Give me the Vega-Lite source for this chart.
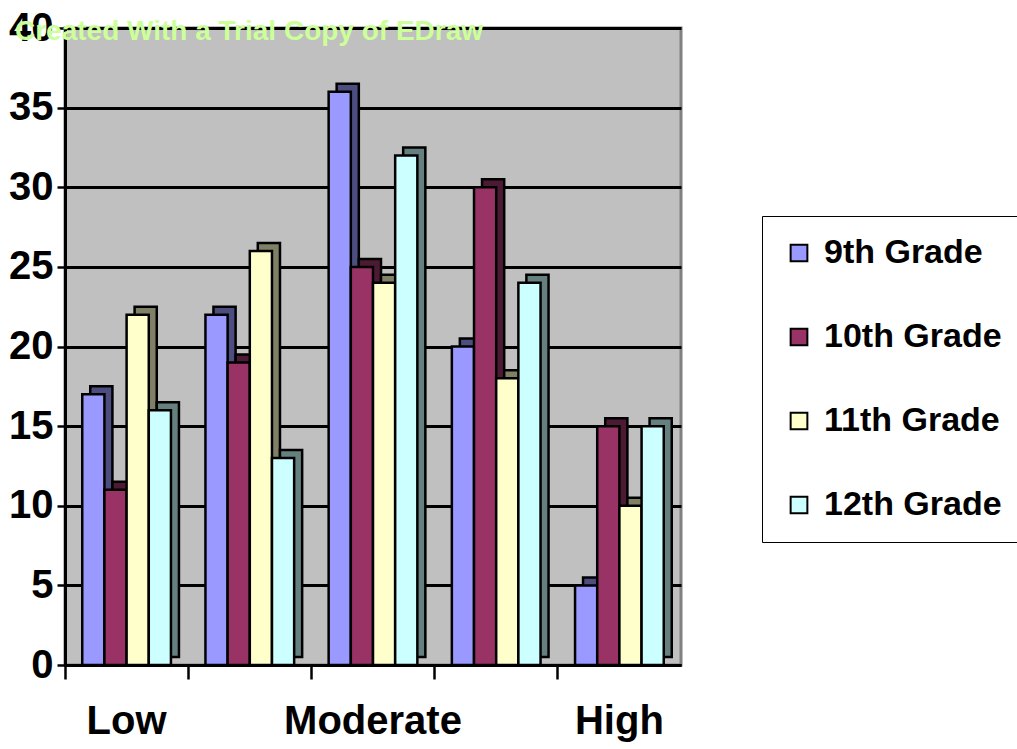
{
  "$schema": "https://vega.github.io/schema/vega-lite/v6.json",
  "autosize": "none",
  "width": 616,
  "height": 637,
  "padding": {"left": 65, "top": 28, "right": 336, "bottom": 84},
  "background": "white",
  "title": {
    "text": "Created With a Trial Copy of EDraw",
    "font": "Liberation Sans",
    "fontSize": 28,
    "fontWeight": "bold",
    "color": "#CCFF99",
    "anchor": "start",
    "frame": "group",
    "orient": "top",
    "offset": -38,
    "dx": -50
  },
  "data": {
    "values": [
      {"level": "Low", "grade": "9th Grade", "value": 17},
      {"level": "Low", "grade": "10th Grade", "value": 11},
      {"level": "Low", "grade": "11th Grade", "value": 22},
      {"level": "Low", "grade": "12th Grade", "value": 16},
      {"level": "Low-Moderate", "grade": "9th Grade", "value": 22},
      {"level": "Low-Moderate", "grade": "10th Grade", "value": 19},
      {"level": "Low-Moderate", "grade": "11th Grade", "value": 26},
      {"level": "Low-Moderate", "grade": "12th Grade", "value": 13},
      {"level": "Moderate", "grade": "9th Grade", "value": 36},
      {"level": "Moderate", "grade": "10th Grade", "value": 25},
      {"level": "Moderate", "grade": "11th Grade", "value": 24},
      {"level": "Moderate", "grade": "12th Grade", "value": 32},
      {"level": "Moderate-High", "grade": "9th Grade", "value": 20},
      {"level": "Moderate-High", "grade": "10th Grade", "value": 30},
      {"level": "Moderate-High", "grade": "11th Grade", "value": 18},
      {"level": "Moderate-High", "grade": "12th Grade", "value": 24},
      {"level": "High", "grade": "9th Grade", "value": 5},
      {"level": "High", "grade": "10th Grade", "value": 15},
      {"level": "High", "grade": "11th Grade", "value": 10},
      {"level": "High", "grade": "12th Grade", "value": 15}
    ]
  },
  "encoding": {
    "x": {
      "field": "level",
      "type": "nominal",
      "sort": ["Low", "Low-Moderate", "Moderate", "Moderate-High", "High"],
      "scale": {"paddingInner": 0.28, "paddingOuter": 0.14},
      "axis": {
        "title": null,
        "labelAngle": 0,
        "labelExpr": "datum.label == 'Low' || datum.label == 'Moderate' || datum.label == 'High' ? datum.label : ''",
        "labelFont": "Liberation Sans",
        "labelFontSize": 40,
        "labelFontWeight": "bold",
        "labelColor": "black",
        "labelPadding": 22,
        "bandPosition": -0.194,
        "tickColor": "black",
        "tickWidth": 2.5,
        "tickSize": 14,
        "domainColor": "black",
        "domainWidth": 3,
        "grid": false
      }
    },
    "y": {
      "field": "value",
      "type": "quantitative",
      "scale": {"domain": [0, 40], "nice": false},
      "axis": {
        "title": null,
        "values": [0, 5, 10, 15, 20, 25, 30, 35, 40],
        "labelFont": "Liberation Sans",
        "labelFontSize": 40,
        "labelFontWeight": "bold",
        "labelColor": "black",
        "labelPadding": 4,
        "tickColor": "black",
        "tickWidth": 2.5,
        "tickSize": 8,
        "domainColor": "black",
        "domainWidth": 3,
        "grid": true,
        "gridColor": "black",
        "gridWidth": 3
      }
    }
  },
  "layer": [
    {
      "mark": {"type": "bar", "stroke": "black", "strokeWidth": 2.5, "yOffset": -8, "y2Offset": -8},
      "encoding": {
        "xOffset": {
          "field": "grade",
          "type": "nominal",
          "sort": ["9th Grade", "10th Grade", "11th Grade", "12th Grade"],
          "scale": {"paddingInner": 0, "paddingOuter": 0, "range": [8, 96.7]}
        },
        "color": {
          "field": "grade",
          "type": "nominal",
          "sort": ["9th Grade", "10th Grade", "11th Grade", "12th Grade"],
          "scale": {
            "domain": ["9th Grade", "10th Grade", "11th Grade", "12th Grade"],
            "range": ["#4D4D80", "#4D1A33", "#808066", "#668080"]
          },
          "legend": null
        }
      }
    },
    {
      "mark": {"type": "bar", "stroke": "black", "strokeWidth": 2.5},
      "encoding": {
        "xOffset": {
          "field": "grade",
          "type": "nominal",
          "sort": ["9th Grade", "10th Grade", "11th Grade", "12th Grade"],
          "scale": {"paddingInner": 0, "paddingOuter": 0, "range": [0, 88.7]}
        },
        "color": {
          "field": "grade",
          "type": "nominal",
          "sort": ["9th Grade", "10th Grade", "11th Grade", "12th Grade"],
          "scale": {
            "domain": ["9th Grade", "10th Grade", "11th Grade", "12th Grade"],
            "range": ["#9999FF", "#993366", "#FFFFCC", "#CCFFFF"]
          },
          "legend": {
            "title": null,
            "orient": "none",
            "legendX": 697,
            "legendY": 188,
            "direction": "vertical",
            "strokeColor": "black",
            "fillColor": "white",
            "padding": 20,
            "symbolType": "square",
            "symbolSize": 280,
            "symbolStrokeColor": "black",
            "symbolStrokeWidth": 2,
            "symbolOpacity": 1,
            "labelFont": "Liberation Sans",
            "labelFontSize": 34,
            "labelFontWeight": "bold",
            "labelColor": "black",
            "labelLimit": 400,
            "rowPadding": 50,
            "labelOffset": 8,
            "encoding": {"legend": {"update": {"strokeWidth": {"value": 2.5}}}}
          }
        }
      }
    }
  ],
  "resolve": {"scale": {"color": "independent", "xOffset": "independent"}, "legend": {"color": "independent"}},
  "config": {
    "view": {"fill": "#C0C0C0", "stroke": "#808080", "strokeWidth": 3}
  }
}
